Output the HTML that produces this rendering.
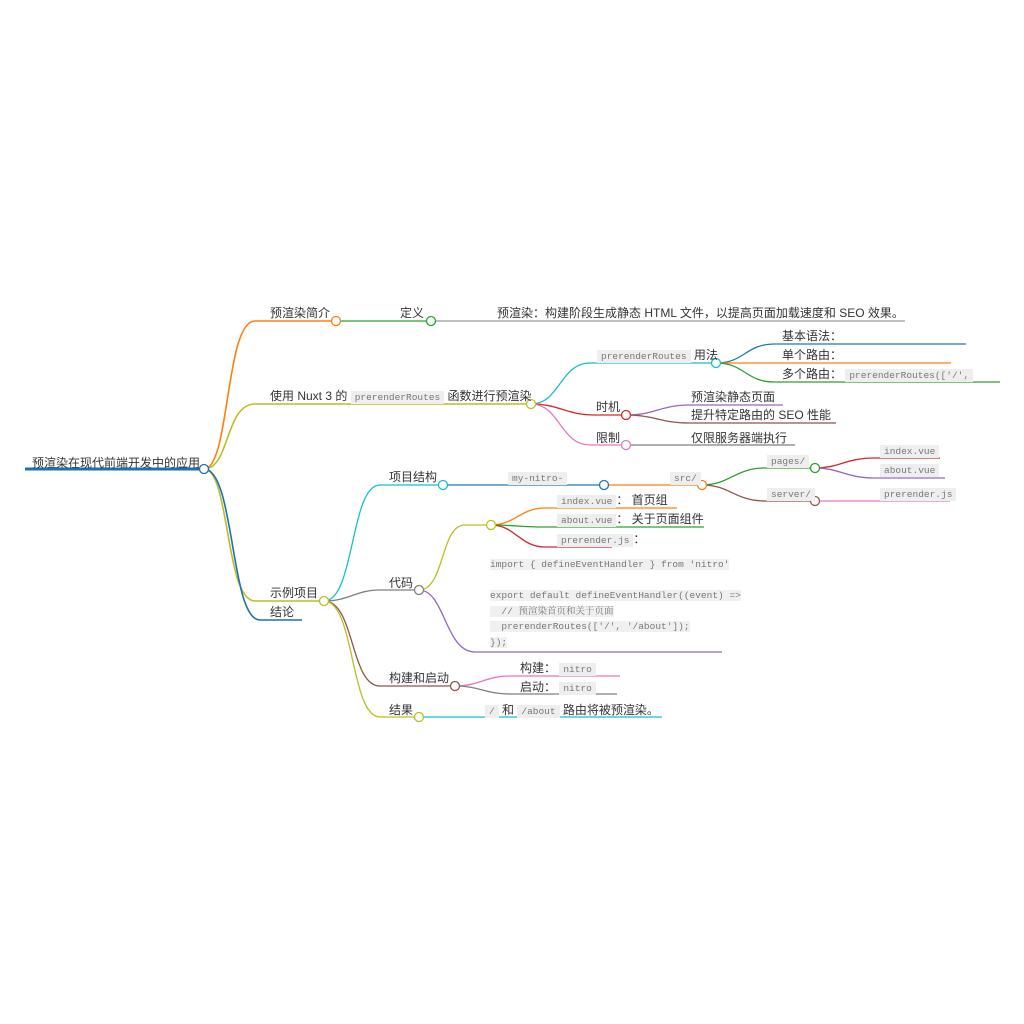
<!DOCTYPE html>
<html><head><meta charset="utf-8"><style>
html,body{margin:0;padding:0;background:#fff;}
#w{position:relative;width:1024px;height:1024px;overflow:hidden;}
svg{position:absolute;left:0;top:0;}
.t{position:absolute;font-family:"Liberation Sans","Noto Sans CJK SC",sans-serif;font-size:12px;line-height:14px;color:#333;white-space:nowrap;}
.c{font-family:"Liberation Mono","Noto Sans CJK SC",monospace;font-size:9.5px;background:#eee;color:#777;padding:1px 4px;}
.code{position:absolute;font-family:"Liberation Mono","Noto Serif CJK SC",monospace;font-size:9.5px;line-height:15.5px;color:#777;white-space:pre;}
.code span{background:#f0f0f0;}
</style></head><body><div id="w">
<svg width="1024" height="1024" fill="none" stroke-width="1.3">
<!-- root -->
<path d="M25 469 H204" stroke="#1f6fb4" stroke-width="3"/>
<path d="M204 469 C230 469 225 321 255 321 H336" stroke="#ff7f0e" stroke-width="1.6"/>
<path d="M204 469 C230 469 225 404 255 404 H531" stroke="#bcbd22" stroke-width="1.6"/>
<path d="M204 469 C230 469 225 601 255 601 H324" stroke="#bcbd22" stroke-width="1.6"/>
<path d="M204 469 C235 469 230 620 260 620 H302" stroke="#1f6fb4" stroke-width="1.6"/>
<!-- intro -->
<path d="M336 321 H431" stroke="#2ca02c"/>
<path d="M431 321 H905" stroke="#999"/>
<!-- nuxt -->
<path d="M531 404 C560 404 560 363 590 363 H716" stroke="#17becf"/>
<path d="M716 363 C745 363 745 344 775 344 H966" stroke="#1f77b4"/>
<path d="M716 363 H951" stroke="#ff7f0e"/>
<path d="M716 363 C745 363 745 382 775 382 H1000" stroke="#2ca02c"/>
<path d="M531 404 C560 404 565 415 595 415 H626" stroke="#d62728"/>
<path d="M626 415 C655 415 660 405 690 405 H783" stroke="#9467bd"/>
<path d="M626 415 C655 415 660 423 690 423 H836" stroke="#8c564b"/>
<path d="M531 404 C560 404 560 445 590 445 H626" stroke="#e377c2"/>
<path d="M626 445 H795" stroke="#7f7f7f"/>
<!-- example -->
<path d="M324 601 C355 601 350 485 380 485 H443" stroke="#17becf"/>
<path d="M443 485 H604" stroke="#1f77b4"/>
<path d="M604 485 H702" stroke="#ff7f0e"/>
<path d="M702 485 C730 485 735 468 765 468 H815" stroke="#2ca02c"/>
<path d="M815 468 C840 468 845 458 875 458 H940" stroke="#d62728"/>
<path d="M815 468 C840 468 845 478 875 478 H945" stroke="#9467bd"/>
<path d="M702 485 C730 485 735 501 765 501 H815" stroke="#8c564b"/>
<path d="M815 501 H950" stroke="#e377c2"/>
<path d="M324 601 C350 601 355 590 380 590 H419" stroke="#7f7f7f"/>
<path d="M419 590 C445 590 440 525 465 525 H491" stroke="#bcbd22"/>
<path d="M491 525 C515 525 520 508 545 508 H677" stroke="#ff7f0e"/>
<path d="M491 525 C515 525 520 527 545 527 H704" stroke="#2ca02c"/>
<path d="M491 525 C515 525 520 547 545 547 H612" stroke="#d62728"/>
<path d="M419 590 C445 590 445 652 475 652 H722" stroke="#9467bd"/>
<path d="M324 601 C355 601 350 686 380 686 H455" stroke="#8c564b"/>
<path d="M455 686 C480 686 485 676 510 676 H620" stroke="#e377c2"/>
<path d="M455 686 C480 686 485 694 510 694 H617" stroke="#7f7f7f"/>
<path d="M324 601 C355 601 350 717 380 717 H419" stroke="#bcbd22"/>
<path d="M419 717 H662" stroke="#17becf"/>
<!-- circles -->
<g fill="#fff" stroke-width="1.3">
<circle cx="204" cy="469" r="4.5" stroke="#1f6fb4"/>
<circle cx="336" cy="321" r="4.5" stroke="#ff7f0e"/>
<circle cx="431" cy="321" r="4.5" stroke="#2ca02c"/>
<circle cx="531" cy="404" r="4.5" stroke="#bcbd22"/>
<circle cx="716" cy="363" r="4.5" stroke="#17becf"/>
<circle cx="626" cy="415" r="4.5" stroke="#d62728"/>
<circle cx="626" cy="445" r="4.5" stroke="#e377c2"/>
<circle cx="324" cy="601" r="4.5" stroke="#bcbd22"/>
<circle cx="443" cy="485" r="4.5" stroke="#17becf"/>
<circle cx="604" cy="485" r="4.5" stroke="#1f77b4"/>
<circle cx="702" cy="485" r="4.5" stroke="#ff7f0e"/>
<circle cx="815" cy="468" r="4.5" stroke="#2ca02c"/>
<circle cx="815" cy="501" r="4.5" stroke="#8c564b"/>
<circle cx="419" cy="590" r="4.5" stroke="#7f7f7f"/>
<circle cx="491" cy="525" r="4.5" stroke="#bcbd22"/>
<circle cx="455" cy="686" r="4.5" stroke="#8c564b"/>
<circle cx="419" cy="717" r="4.5" stroke="#bcbd22"/>
</g>
</svg>
<div class="t" style="left:32px;top:456px">预渲染在现代前端开发中的应用</div>
<div class="t" style="left:270px;top:306px">预渲染简介</div>
<div class="t" style="left:400px;top:306px">定义</div>
<div class="t" style="left:497px;top:306px">预渲染：构建阶段生成静态 HTML 文件，以提高页面加载速度和 SEO 效果。</div>
<div class="t" style="left:270px;top:389px">使用 Nuxt 3 的 <span class="c">prerenderRoutes</span> 函数进行预渲染</div>
<div class="t" style="left:597px;top:348px"><span class="c">prerenderRoutes</span> 用法</div>
<div class="t" style="left:782px;top:329px">基本语法：</div>
<div class="t" style="left:782px;top:348px">单个路由：</div>
<div class="t" style="left:782px;top:367px">多个路由： <span class="c">prerenderRoutes(['/',</span></div>
<div class="t" style="left:596px;top:400px">时机</div>
<div class="t" style="left:691px;top:390px">预渲染静态页面</div>
<div class="t" style="left:691px;top:408px">提升特定路由的 SEO 性能</div>
<div class="t" style="left:596px;top:431px">限制</div>
<div class="t" style="left:691px;top:431px">仅限服务器端执行</div>
<div class="t" style="left:389px;top:470px">项目结构</div>
<div class="t" style="left:508px;top:470px"><span class="c">my-nitro-</span></div>
<div class="t" style="left:670px;top:470px"><span class="c">src/</span></div>
<div class="t" style="left:767px;top:453px"><span class="c">pages/</span></div>
<div class="t" style="left:767px;top:486px"><span class="c">server/</span></div>
<div class="t" style="left:880px;top:443px"><span class="c">index.vue</span></div>
<div class="t" style="left:880px;top:462px"><span class="c">about.vue</span></div>
<div class="t" style="left:880px;top:486px"><span class="c">prerender.js</span></div>
<div class="t" style="left:557px;top:493px"><span class="c">index.vue</span>： 首页组</div>
<div class="t" style="left:557px;top:512px"><span class="c">about.vue</span>： 关于页面组件</div>
<div class="t" style="left:557px;top:532px"><span class="c">prerender.js</span>：</div>
<div class="code" style="left:490px;top:557px"><span>import { defineEventHandler } from 'nitro'</span>

<span>export default defineEventHandler((event) =&gt;</span>
<span>  // 预渲染首页和关于页面</span>
<span>  prerenderRoutes(['/', '/about']);</span>
<span>});</span></div>
<div class="t" style="left:270px;top:586px">示例项目</div>
<div class="t" style="left:270px;top:605px">结论</div>
<div class="t" style="left:389px;top:576px">代码</div>
<div class="t" style="left:389px;top:671px">构建和启动</div>
<div class="t" style="left:520px;top:661px">构建： <span class="c">nitro</span></div>
<div class="t" style="left:520px;top:680px">启动： <span class="c">nitro</span></div>
<div class="t" style="left:389px;top:703px">结果</div>
<div class="t" style="left:485px;top:703px"><span class="c">/</span> 和 <span class="c">/about</span> 路由将被预渲染。</div>
</div></body></html>
